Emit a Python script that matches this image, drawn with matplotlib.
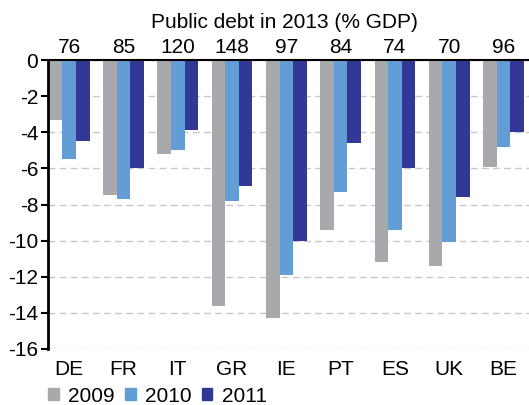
import numpy as np
import matplotlib
matplotlib.use("Agg")
import matplotlib.pyplot as plt
from matplotlib.patches import Patch

plt.rcParams['font.family'] = ['Liberation Sans', 'DejaVu Sans']
plt.rcParams['axes.unicode_minus'] = False

countries = ['DE', 'FR', 'IT', 'GR', 'IE', 'PT', 'ES', 'UK', 'BE']
debt_2013 = [76, 85, 120, 148, 97, 84, 74, 70, 96]
years = ['2009', '2010', '2011']
bal_2009 = [-3.3, -7.5, -5.2, -13.6, -14.3, -9.4, -11.2, -11.4, -5.9]
bal_2010 = [-5.5, -7.7, -5.0, -7.8, -11.9, -7.3, -9.4, -10.1, -4.8]
bal_2011 = [-4.5, -6.0, -3.9, -7.0, -10.0, -4.6, -6.0, -7.6, -4.0]

COLORS = ['#A7A9AC', '#629DD6', '#313896']
FS = 15

fig = plt.figure(figsize=(5.29, 4.05), dpi=100)
ax = fig.add_axes([48 / 529, 1 - 349 / 405, 1 - 48 / 529, 289 / 405])

x = np.arange(len(countries))
w = 0.25
for i, vals in enumerate([bal_2009, bal_2010, bal_2011]):
    ax.bar(x + (i - 1) * w, vals, width=w, color=COLORS[i], zorder=2)

ax.set_xlim(-0.39, 8.47)
ax.set_ylim(-16, 0)
ax.set_yticks(np.arange(-16, 1, 2))
ax.yaxis.grid(True, linestyle=(0, (5, 3)), color='#C8C8C8', linewidth=1, zorder=0)
ax.set_xticks(x)
ax.set_xticklabels(countries, fontsize=FS)
ax.tick_params(axis='x', length=0, pad=8)
ax.tick_params(axis='y', labelsize=FS, length=5, width=1.5, pad=2)

for s in ['right', 'bottom']:
    ax.spines[s].set_visible(False)
ax.spines['left'].set_linewidth(2)
ax.spines['top'].set_linewidth(1.5)
ax.spines['top'].set_zorder(3)

for xi, d in zip(x, debt_2013):
    ax.annotate(str(d), xy=(xi, 1.0), xycoords=('data', 'axes fraction'),
                xytext=(0, 2), textcoords='offset points',
                ha='center', va='bottom', fontsize=FS)

fig.text(284 / 529, 1 - 22 / 405, 'Public debt in 2013 (% GDP)',
         ha='center', va='center', fontsize=FS)

handles = [Patch(color=c) for c in COLORS]
fig.legend(handles, years, loc='lower left', bbox_to_anchor=(40 / 529, -0.022),
           ncol=3, frameon=False, fontsize=FS, handlelength=0.5, handleheight=0.5,
           handletextpad=0.45, columnspacing=0.5, borderaxespad=0)

fig.savefig('out.png', dpi=100)
